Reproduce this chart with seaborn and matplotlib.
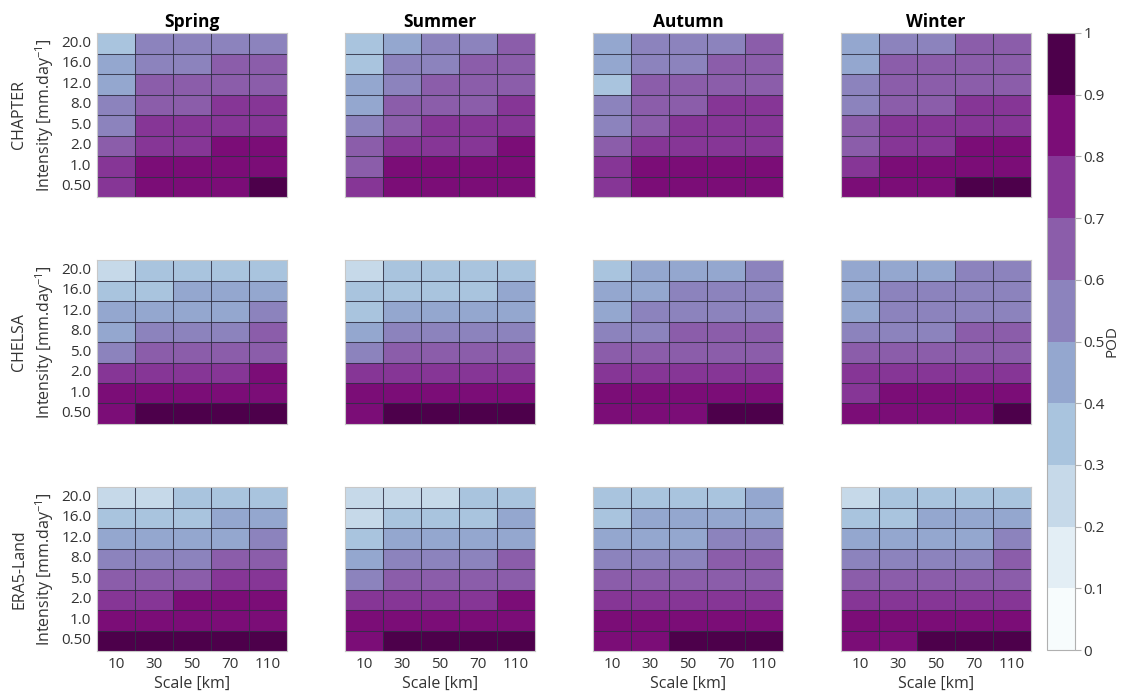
import numpy as np
import pandas as pd
import matplotlib as mpl
mpl.use("Agg")
import matplotlib.pyplot as plt
import seaborn as sns

# Axis categories
scales = ["10", "30", "50", "70", "110"]                                  # km
intensities = ["20.0", "16.0", "12.0", "8.0", "5.0", "2.0", "1.0", "0.50"]  # mm/day, top to bottom
seasons = ["Spring", "Summer", "Autumn", "Winter"]
datasets = ["CHAPTER", "CHELSA", "ERA5-Land"]

# Probability of detection (rows follow `intensities`, columns follow `scales`)
chapter_spring = [[0.35, 0.55, 0.55, 0.56, 0.57],
                  [0.45, 0.55, 0.56, 0.65, 0.65],
                  [0.46, 0.64, 0.65, 0.65, 0.66],
                  [0.55, 0.65, 0.66, 0.75, 0.75],
                  [0.56, 0.74, 0.75, 0.75, 0.76],
                  [0.65, 0.75, 0.76, 0.85, 0.85],
                  [0.75, 0.85, 0.85, 0.86, 0.86],
                  [0.76, 0.85, 0.86, 0.86, 0.95]]
chapter_summer = [[0.35, 0.45, 0.55, 0.56, 0.65],
                  [0.36, 0.55, 0.55, 0.65, 0.66],
                  [0.45, 0.56, 0.65, 0.65, 0.66],
                  [0.45, 0.65, 0.66, 0.66, 0.75],
                  [0.55, 0.66, 0.75, 0.75, 0.76],
                  [0.65, 0.75, 0.75, 0.76, 0.85],
                  [0.66, 0.85, 0.85, 0.86, 0.86],
                  [0.75, 0.85, 0.86, 0.86, 0.86]]
chapter_autumn = [[0.45, 0.55, 0.55, 0.56, 0.65],
                  [0.44, 0.55, 0.56, 0.65, 0.65],
                  [0.38, 0.65, 0.65, 0.66, 0.66],
                  [0.55, 0.65, 0.66, 0.75, 0.75],
                  [0.56, 0.66, 0.75, 0.75, 0.76],
                  [0.65, 0.75, 0.75, 0.76, 0.76],
                  [0.75, 0.85, 0.85, 0.86, 0.86],
                  [0.76, 0.85, 0.86, 0.86, 0.86]]
chapter_winter = [[0.45, 0.55, 0.56, 0.65, 0.65],
                  [0.46, 0.65, 0.65, 0.66, 0.66],
                  [0.55, 0.65, 0.66, 0.66, 0.66],
                  [0.56, 0.65, 0.66, 0.75, 0.75],
                  [0.65, 0.75, 0.75, 0.76, 0.76],
                  [0.66, 0.75, 0.76, 0.85, 0.85],
                  [0.75, 0.85, 0.85, 0.86, 0.86],
                  [0.85, 0.86, 0.86, 0.95, 0.95]]

chelsa_spring = [[0.25, 0.35, 0.35, 0.36, 0.36],
                 [0.35, 0.36, 0.45, 0.45, 0.46],
                 [0.45, 0.45, 0.46, 0.46, 0.55],
                 [0.46, 0.55, 0.55, 0.56, 0.65],
                 [0.55, 0.65, 0.65, 0.66, 0.66],
                 [0.75, 0.75, 0.75, 0.76, 0.85],
                 [0.85, 0.85, 0.86, 0.86, 0.86],
                 [0.85, 0.95, 0.95, 0.96, 0.96]]
chelsa_summer = [[0.25, 0.35, 0.35, 0.35, 0.36],
                 [0.35, 0.36, 0.36, 0.36, 0.45],
                 [0.36, 0.45, 0.45, 0.46, 0.46],
                 [0.45, 0.55, 0.55, 0.56, 0.56],
                 [0.55, 0.65, 0.65, 0.66, 0.66],
                 [0.75, 0.75, 0.75, 0.76, 0.76],
                 [0.85, 0.85, 0.85, 0.86, 0.86],
                 [0.85, 0.95, 0.95, 0.96, 0.96]]
chelsa_autumn = [[0.35, 0.45, 0.45, 0.46, 0.55],
                 [0.45, 0.45, 0.55, 0.55, 0.56],
                 [0.45, 0.55, 0.55, 0.56, 0.56],
                 [0.55, 0.56, 0.65, 0.65, 0.66],
                 [0.65, 0.65, 0.66, 0.66, 0.66],
                 [0.75, 0.75, 0.75, 0.76, 0.76],
                 [0.85, 0.85, 0.85, 0.86, 0.86],
                 [0.85, 0.85, 0.86, 0.95, 0.96]]
chelsa_winter = [[0.45, 0.45, 0.46, 0.55, 0.55],
                 [0.45, 0.55, 0.55, 0.56, 0.56],
                 [0.46, 0.55, 0.56, 0.56, 0.56],
                 [0.55, 0.56, 0.56, 0.65, 0.65],
                 [0.65, 0.65, 0.66, 0.66, 0.66],
                 [0.75, 0.75, 0.75, 0.76, 0.76],
                 [0.75, 0.85, 0.85, 0.86, 0.86],
                 [0.85, 0.85, 0.86, 0.86, 0.95]]

era5_spring = [[0.25, 0.25, 0.35, 0.35, 0.36],
               [0.35, 0.35, 0.36, 0.45, 0.45],
               [0.45, 0.45, 0.46, 0.46, 0.55],
               [0.55, 0.55, 0.56, 0.65, 0.65],
               [0.65, 0.65, 0.66, 0.75, 0.75],
               [0.75, 0.75, 0.85, 0.85, 0.86],
               [0.85, 0.85, 0.86, 0.86, 0.86],
               [0.95, 0.95, 0.95, 0.96, 0.96]]
era5_summer = [[0.25, 0.25, 0.26, 0.35, 0.35],
               [0.26, 0.35, 0.35, 0.36, 0.45],
               [0.35, 0.45, 0.45, 0.46, 0.46],
               [0.45, 0.55, 0.55, 0.56, 0.65],
               [0.55, 0.65, 0.65, 0.66, 0.66],
               [0.75, 0.75, 0.75, 0.76, 0.85],
               [0.85, 0.85, 0.85, 0.86, 0.86],
               [0.85, 0.95, 0.95, 0.96, 0.96]]
era5_autumn = [[0.35, 0.35, 0.36, 0.36, 0.45],
               [0.35, 0.45, 0.45, 0.46, 0.46],
               [0.45, 0.45, 0.46, 0.55, 0.55],
               [0.55, 0.55, 0.56, 0.65, 0.65],
               [0.65, 0.65, 0.66, 0.66, 0.66],
               [0.75, 0.75, 0.75, 0.76, 0.76],
               [0.85, 0.85, 0.85, 0.86, 0.86],
               [0.85, 0.85, 0.95, 0.95, 0.96]]
era5_winter = [[0.25, 0.35, 0.35, 0.36, 0.36],
               [0.35, 0.35, 0.45, 0.45, 0.46],
               [0.45, 0.45, 0.46, 0.46, 0.55],
               [0.55, 0.55, 0.56, 0.56, 0.65],
               [0.65, 0.65, 0.66, 0.66, 0.66],
               [0.75, 0.75, 0.75, 0.76, 0.76],
               [0.85, 0.85, 0.85, 0.86, 0.86],
               [0.85, 0.85, 0.95, 0.95, 0.96]]

grid = [[chapter_spring, chapter_summer, chapter_autumn, chapter_winter],
        [chelsa_spring, chelsa_summer, chelsa_autumn, chelsa_winter],
        [era5_spring, era5_summer, era5_autumn, era5_winter]]

sns.set_theme(style="white")
plt.rcParams["font.family"] = ["Open Sans", "DejaVu Sans"]
plt.rcParams["mathtext.fontset"] = "custom"
plt.rcParams["mathtext.rm"] = "Open Sans"
plt.rcParams["mathtext.it"] = "Open Sans:italic"

W, H = 1121, 697
fig = plt.figure(figsize=(W / 100, H / 100), dpi=100)
fig.patch.set_facecolor("white")

cmap = mpl.colormaps["BuPu"].resampled(10)
text_col = "#333333"
cell_edge = "#303044"

lefts = [97, 345, 593, 841]
tops = [33, 260, 487]
pw, ph = 190, 164

cax = fig.add_axes([1047 / W, 1 - 650 / H, 28 / W, 617 / H])
first_ax = None

for r, dset in enumerate(datasets):
    for c, season in enumerate(seasons):
        ax = fig.add_axes([lefts[c] / W, 1 - (tops[r] + ph) / H, pw / W, ph / H])
        df = pd.DataFrame(grid[r][c], index=intensities, columns=scales)
        first = (r == 0 and c == 0)
        if first:
            first_ax = ax
        sns.heatmap(df, ax=ax, cmap=cmap, vmin=0, vmax=1, linewidths=0,
                    cbar=first, cbar_ax=cax if first else None,
                    xticklabels=scales if r == 2 else False,
                    yticklabels=intensities if c == 0 else False)
        # thin cell separators
        n_rows, n_cols = df.shape
        for y in range(1, n_rows):
            ax.axhline(y, color=cell_edge, lw=0.75, alpha=0.85)
        for x in range(1, n_cols):
            ax.axvline(x, color=cell_edge, lw=0.75, alpha=0.85)
        for sp in ax.spines.values():
            sp.set_visible(True)
            sp.set_color("#c8c8c8")
            sp.set_linewidth(0.8)
        ax.tick_params(length=0, labelsize=11, colors=text_col, pad=4)
        if c == 0:
            ax.set_yticklabels(intensities, rotation=0)
            ax.set_ylabel(f"{dset}\nIntensity [mm.day$^{{-1}}$]",
                          fontsize=11.5, color=text_col, labelpad=4,
                          linespacing=1.35)
        else:
            ax.set_ylabel("")
        if r == 2:
            ax.set_xticklabels(scales, rotation=0)
            ax.set_xlabel("Scale [km]", fontsize=11.5, color=text_col, labelpad=3)
        else:
            ax.set_xlabel("")
        if r == 0:
            ax.set_title(season, fontsize=12.5, fontweight="bold", color="black", pad=4)

cb = first_ax.collections[0].colorbar
cb.set_ticks(np.round(np.arange(0, 1.01, 0.1), 1))
cb.set_ticklabels(["0", "0.1", "0.2", "0.3", "0.4", "0.5", "0.6", "0.7", "0.8", "0.9", "1"])
cb.outline.set_visible(True)
cb.outline.set_edgecolor("#b0b0b0")
cb.outline.set_linewidth(0.8)
cax.tick_params(length=4, width=0.8, color="#b0b0b0", labelsize=11, labelcolor=text_col, pad=2)
fig.text(1112 / W, 1 - 341 / H, "POD", rotation=90, ha="center", va="center",
         fontsize=11, color=text_col)

fig.savefig("out.png", dpi=100, facecolor="white")
